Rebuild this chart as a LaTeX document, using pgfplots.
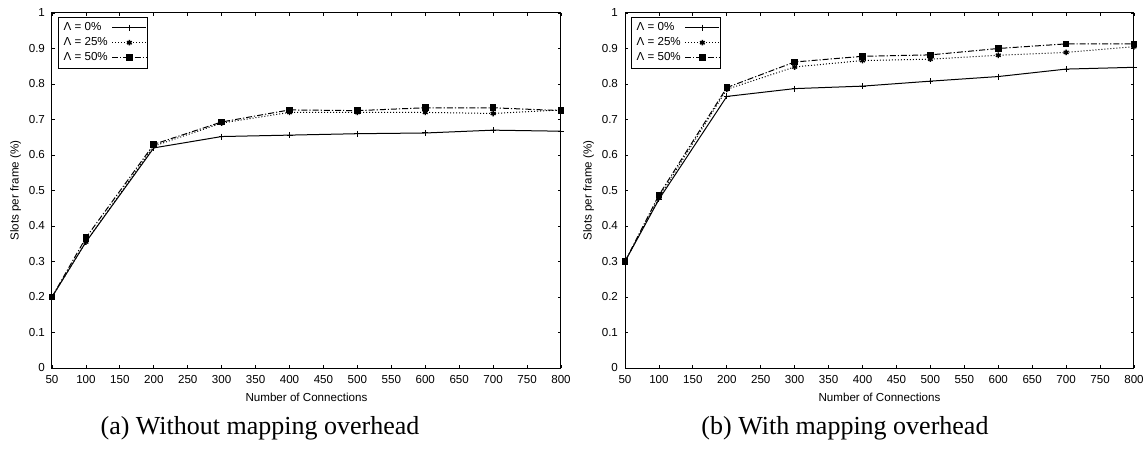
\documentclass[border=0pt]{standalone}
\usepackage{pgfplots}
\pgfplotsset{compat=1.18}
\usepackage{fontspec}
\setmainfont{Liberation Serif}
\newfontfamily\plotfont{Liberation Sans}

\pgfplotsset{
  slots/.style={
    scale only axis,
    width=254.5pt, height=177.5pt,
    xmin=50, xmax=800, ymin=0, ymax=1,
    xtick={50,100,...,800},
    ytick={0,0.1,...,1},
    yticklabel style={/pgf/number format/fixed},
    tick align=inside,
    major tick length=1.5pt,
    tick style={black, line width=0.4pt},
    axis line style={line width=0.5pt},
    every tick label/.append style={font=\plotfont\fontsize{5.8}{7}\selectfont},
    /pgf/number format/assume math mode=true,
    xlabel={Number of Connections},
    ylabel={Slots per frame (\%)},
    label style={font=\plotfont\fontsize{5.8}{7}\selectfont},
    xlabel style={yshift=2pt},
    ylabel style={yshift=-3pt},
    legend style={at={(0.012,0.99)}, anchor=north west, draw=black,
      font=\plotfont\fontsize{5.8}{7}\selectfont, inner sep=0.5pt,
      row sep=-2pt, line width=0.5pt, cells={anchor=west}},
    legend plot pos=right,
    legend cell align=left,
    legend image code/.code={
      \draw[mark repeat=2,mark phase=2,#1]
        plot coordinates {(0.25cm,0cm) (0.55cm,0cm) (0.85cm,0cm)};},
    every axis plot/.append style={line width=0.5pt, black},
  },
  p0/.style={solid, mark=+, mark size=1.5pt},
  p25/.style={densely dotted, mark=asterisk, mark size=1.4pt, mark options={solid, line width=0.7pt}},
  p50/.style={dash pattern=on 3pt off 1pt on 0.6pt off 1pt, mark=square*, mark size=1.4pt, mark options={solid}},
}

\begin{document}
\begin{tikzpicture}
\path[use as bounding box] (-26pt,-41pt) rectangle (547.5pt,184pt);

\begin{axis}[slots]
\addplot[p0] coordinates {(50,0.2)(100,0.355)(200,0.62)(300,0.652)(400,0.656)(500,0.66)(600,0.662)(700,0.67)(800,0.667)};
\addplot[p25] coordinates {(50,0.2)(100,0.355)(200,0.625)(300,0.69)(400,0.72)(500,0.72)(600,0.72)(700,0.717)(800,0.727)};
\addplot[p50] coordinates {(50,0.2)(100,0.367)(200,0.63)(300,0.693)(400,0.727)(500,0.725)(600,0.733)(700,0.733)(800,0.725)};
\legend{Λ = 0\%, Λ = 25\%, Λ = 50\%}
\end{axis}

\begin{axis}[slots, xshift=286.5pt]
\addplot[p0] coordinates {(50,0.3)(100,0.475)(200,0.765)(300,0.787)(400,0.794)(500,0.808)(600,0.821)(700,0.842)(800,0.847)};
\addplot[p25] coordinates {(50,0.3)(100,0.48)(200,0.785)(300,0.848)(400,0.866)(500,0.87)(600,0.881)(700,0.889)(800,0.905)};
\addplot[p50] coordinates {(50,0.3)(100,0.487)(200,0.79)(300,0.862)(400,0.878)(500,0.882)(600,0.9)(700,0.913)(800,0.913)};
\legend{Λ = 0\%, Λ = 25\%, Λ = 50\%}
\end{axis}

\node[font=\fontsize{13}{15}\selectfont] at (104pt,-30pt) {(a) Without mapping overhead};
\node[font=\fontsize{13}{15}\selectfont] at (396.5pt,-30pt) {(b) With mapping overhead};
\end{tikzpicture}
\end{document}
